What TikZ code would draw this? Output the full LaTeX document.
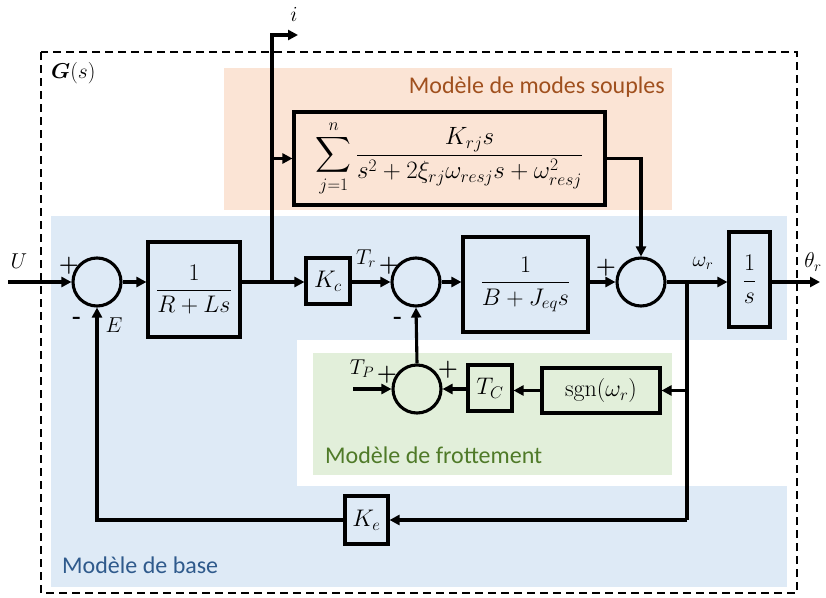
\RequirePackage{fix-cm}
\documentclass[tikz,border=0pt]{standalone}
\usepackage{fontspec}
\usepackage{amsmath}
\usepackage{bm}
\usetikzlibrary{arrows.meta,calc}
\newfontfamily\labfont{Carlito}
\newcommand{\mfs}{\fontsize{24}{28}\selectfont}
\newcommand{\lfs}{\fontsize{21.5}{26}\selectfont}
\newcommand{\sfs}{\fontsize{25}{30}\selectfont}
\newcommand{\tfs}{\labfont\fontsize{24}{28}\selectfont}
\definecolor{bluebg}{HTML}{DEEAF6}
\definecolor{orangebg}{HTML}{FBE4D5}
\definecolor{greenbg}{HTML}{E2EFDA}
\definecolor{orangetx}{HTML}{A0501E}
\definecolor{greentx}{HTML}{4F7A28}
\definecolor{bluetx}{HTML}{2F5A8C}
\begin{document}
\begin{tikzpicture}[x=1pt,y=-1pt,
  ln/.style={line width=3.1pt},
  arr/.style={line width=3.1pt,-{Triangle[length=10pt,width=10pt]}},
  blk/.style={draw,line width=3.1pt,inner sep=0pt,font=\mfs},
  sumc/.style={draw,circle,line width=3.1pt,minimum size=48pt,inner sep=0pt},
  lab/.style={font=\lfs,inner sep=0pt},
  sgnlab/.style={font=\fontsize{23}{26}\selectfont\bfseries,inner sep=0pt},
  region/.style={font=\tfs,inner sep=0pt}]
\useasboundingbox (0,0) rectangle (826,597);
% background regions
\fill[bluebg] (51,216) rectangle (787,587);
\fill[white] (297,340) rectangle (787,486);
\fill[greenbg] (313,353) rectangle (672,475);
\fill[orangebg] (224,68) rectangle (672,210);
\draw[line width=2.2pt,dash pattern=on 8pt off 5pt] (41,52) rectangle (797,593);
\node[region,text=orangetx,anchor=east] (lmod) at (665,87) {Modèle de modes souples};
\node[region,text=greentx,anchor=west] (lfr) at (325,455) {Modèle de frottement};
\node[region,text=bluetx,anchor=west] (lbase) at (62,565) {Modèle de base};
\node[lab,anchor=west] (G) at (51,73) {$\bm{G}(s)$};
% blocks
\node[blk,minimum width=92pt,minimum height=95pt] (b1) at (194,289.5) {$\dfrac{1}{R+Ls}$};
\node[blk,minimum width=44pt,minimum height=46pt] (kc) at (328,281) {$K_c$};
\node[blk,minimum width=125pt,minimum height=95pt] (b2) at (525.5,284.5) {$\dfrac{1}{B+J_{eq}s}$};
\node[blk,minimum width=311pt,minimum height=93pt,font=\sfs] (bs) at (449.5,158.5) {$\displaystyle\sum_{j=1}^{n}\frac{K_{rj}s}{s^2+2\xi_{rj}\omega_{resj}s+\omega_{resj}^2}$};
\node[blk,minimum width=41pt,minimum height=95pt] (int) at (749.5,279.5) {$\dfrac{1}{s}$};
\node[blk,minimum width=118pt,minimum height=45pt] (sgn) at (601,390.5) {$\mathrm{sgn}(\omega_r)$};
\node[blk,minimum width=44pt,minimum height=46pt] (tc) at (490,388) {$T_C$};
\node[blk,minimum width=43pt,minimum height=48pt] (ke) at (366.5,520) {$K_e$};
% summing junctions
\node[sumc] (s1) at (97,282) {};
\node[sumc] (s2) at (416,282) {};
\node[sumc] (s3) at (641,282) {};
\node[sumc] (s4) at (417,389) {};
% coordinates
\coordinate (uin) at (8,282);
\coordinate (thout) at (820,282);
\coordinate (br1) at (272,282);
\coordinate (itop) at (272,35);
\coordinate (iend) at (298,35);
\coordinate (br2) at (687,282);
\coordinate (kebr) at (687,520);
\coordinate (fb) at (97,520);
\coordinate (tpin) at (353,389);
% connectors
\draw[arr] (uin) -- (s1.west);
\draw[arr] (s1.east) -- (s1.east -| b1.west);
\draw[ln] (b1.east |- br1) -- (br1);
\draw[arr] (br1) -- (kc.west |- br1);
\draw[arr] (br1) -- (itop) -- (iend);
\draw[arr] (br1 |- bs.west) -- (bs.west);
\draw[arr] (kc.east |- s2) -- (s2.west);
\draw[arr] (s2.east) -- (s2.east -| b2.west);
\draw[arr] (b2.east |- s3) -- (s3.west);
\draw[arr] (bs.east) -- (s3 |- bs.east) -- (s3.north);
\draw[ln] (s3.east) -- (br2);
\draw[arr] (br2) -- (int.west |- br2);
\draw[arr] (int.east |- thout) -- (thout);
\draw[ln] (br2) -- (kebr);
\draw[arr] (br2 |- sgn) -- (sgn.east);
\draw[arr] (kebr) -- (ke.east);
\draw[arr] (ke.west) -- (fb) -- (s1.south);
\draw[arr] (sgn.west) -- (tc.east |- sgn);
\draw[arr] (tc.west |- s4) -- (s4.east);
\draw[arr] (tpin) -- (s4.west);
\draw[arr] (s4.north) -- (s2.south);
% labels
\node[lab] (lu) at (19,261) {$U$};
\node[sgnlab] (p1) at (69,266) {+};
\node[sgnlab] (m1) at (77,320) {-};
\node[lab] (le) at (114,325) {$E$};
\node[lab] (ltr) at (366,259) {$T_r$};
\node[sgnlab] (p2) at (389,266) {+};
\node[sgnlab] (m2) at (398,320) {-};
\node[sgnlab] (p3) at (606,268) {+};
\node[lab] (lw) at (703,263) {$\omega_r$};
\node[lab] (lth) at (813,262) {$\theta_r$};
\node[lab] (li) at (294,14) {$i$};
\node[lab] (ltp) at (362,369) {$T_P$};
\node[sgnlab] (p4) at (387,375) {+};
\node[sgnlab] (p5) at (448,370) {+};
\end{tikzpicture}
\end{document}
